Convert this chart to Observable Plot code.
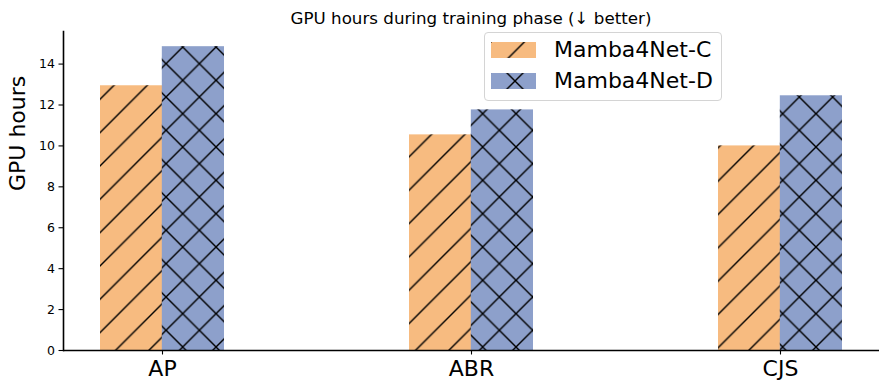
<!DOCTYPE html>
<html>
<head>
<meta charset="utf-8">
<script src="https://cdn.jsdelivr.net/npm/d3@7"></script>
<script src="https://cdn.jsdelivr.net/npm/@observablehq/plot@0.6"></script>
<style>
  html, body { margin: 0; padding: 0; background: white; }
  body { font-family: "DejaVu Sans", sans-serif; }
  #wrap { position: relative; width: 889px; height: 390px; overflow: hidden; }
  #title { position: absolute; top: 10px; left: 63px; width: 816px; text-align: center;
           font-size: 16.7px; line-height: 16.7px; color: black; white-space: nowrap; }
  #chart { position: absolute; top: 28px; left: 0; }
  #legend { position: absolute; left: 484px; top: 32px; width: 236px; height: 67px;
            border: 1px solid #d4d4d4; border-radius: 4px; background: rgba(255,255,255,0.8); }
  .item { position: absolute; left: 6px; height: 22px; display: flex; align-items: center; }
  .item svg { width: 45px; height: 16px; display: block; }
  .item span { margin-left: 18px; font-size: 22px; line-height: 22px; color: black; white-space: nowrap; }
</style>
</head>
<body>
<div id="wrap">
  <div id="title"></div>
  <div id="chart"></div>
  <div id="legend"></div>
</div>
<svg width="0" height="0" style="position:absolute">
  <defs>
    <pattern id="hatchC" patternUnits="userSpaceOnUse" width="33.33" height="33.33" x="0" y="4.63">
      <path d="M-2,2 L2,-2 M0,33.33 L33.33,0 M31.33,35.33 L35.33,31.33" stroke="black" stroke-width="1.4"/>
    </pattern>
    <pattern id="hatchD" patternUnits="userSpaceOnUse" width="33.33" height="33.33" x="-0.6" y="2.33">
      <path d="M-2,2 L2,-2 M0,33.33 L33.33,0 M31.33,35.33 L35.33,31.33 M-2,-2 L35.33,35.33" stroke="black" stroke-width="1.4"/>
    </pattern>
    <pattern id="legC" patternUnits="userSpaceOnUse" width="33.33" height="33.33" x="0" y="0">
      <path d="M-2,2 L2,-2 M0,33.33 L33.33,0 M31.33,35.33 L35.33,31.33" stroke="black" stroke-width="1.4"/>
    </pattern>
    <pattern id="legD" patternUnits="userSpaceOnUse" width="33.33" height="33.33" x="7.35" y="-8.65">
      <path d="M-2,2 L2,-2 M0,33.33 L33.33,0 M31.33,35.33 L35.33,31.33 M-2,-2 L35.33,35.33" stroke="black" stroke-width="1.4"/>
    </pattern>
  </defs>
</svg>
<script>
// ---- data ----
const titleText = "GPU hours during training phase (↓ better)";
const yLabel = "GPU hours";
const categories = ["AP", "ABR", "CJS"];
const seriesNames = ["Mamba4Net-C", "Mamba4Net-D"];
const valuesC = [12.94, 10.54, 10.0];
const valuesD = [14.85, 11.76, 12.45];
const yTicks = [0, 2, 4, 6, 8, 10, 12, 14];

// ---- styles ----
const colors = ["#f7bb80", "#8da0cb"];
const hatches = ["url(#hatchC)", "url(#hatchD)"];
const legendHatches = ["url(#legC)", "url(#legD)"];

const rowsC = categories.map((c, i) => ({cat: c, series: seriesNames[0], value: valuesC[i]}));
const rowsD = categories.map((c, i) => ({cat: c, series: seriesNames[1], value: valuesD[i]}));
const yMax = d3.max([...valuesC, ...valuesD]) * 1.05;

const W = 889, H = 362, mL = 63, mR = 10;
const pInner = 0.6, pOuter = 0.12;
const step = (W - mL - mR) / (categories.length - pInner + 2 * pOuter);
const half = step * (1 - pInner) / 2;

document.getElementById("title").textContent = titleText;

const chart = Plot.plot({
  width: W, height: H,
  marginLeft: mL, marginRight: mR, marginTop: 3, marginBottom: 40,
  style: {fontFamily: "DejaVu Sans", color: "black", background: "transparent", overflow: "visible"},
  x: {type: "band", domain: categories, paddingInner: pInner, paddingOuter: pOuter, label: null},
  y: {domain: [0, yMax], label: null},
  marks: [
    Plot.barY(rowsC, {x: "cat", y: "value", fill: colors[0], insetRight: half}),
    Plot.barY(rowsC, {x: "cat", y: "value", fill: hatches[0], insetRight: half}),
    Plot.barY(rowsD, {x: "cat", y: "value", fill: colors[1], insetLeft: half}),
    Plot.barY(rowsD, {x: "cat", y: "value", fill: hatches[1], insetLeft: half}),
    Plot.axisY({ticks: yTicks, tickSize: 4.5, tickPadding: 4, fontSize: 12.5, label: null, strokeWidth: 1.1}),
    Plot.axisX({tickSize: 4.5, tickPadding: 5, fontSize: 22, label: null, strokeWidth: 1.1}),
    Plot.text([yLabel], {frameAnchor: "left", rotate: -90, dx: -45.5, fontSize: 22, fill: "black"}),
    Plot.ruleY([0], {stroke: "black", strokeWidth: 1.6}),
    Plot.frame({anchor: "left", stroke: "black", strokeWidth: 1.6})
  ]
});
document.getElementById("chart").appendChild(chart);

// legend
const legend = document.getElementById("legend");
seriesNames.forEach((name, i) => {
  const item = document.createElement("div");
  item.className = "item";
  item.style.top = (6 + i * 31) + "px";
  item.innerHTML = `<svg viewBox="0 0 45 16"><rect width="45" height="16" fill="${colors[i]}"/><rect width="45" height="16" fill="${legendHatches[i]}"/></svg><span></span>`;
  item.querySelector("span").textContent = name;
  legend.appendChild(item);
});
</script>
</body>
</html>
